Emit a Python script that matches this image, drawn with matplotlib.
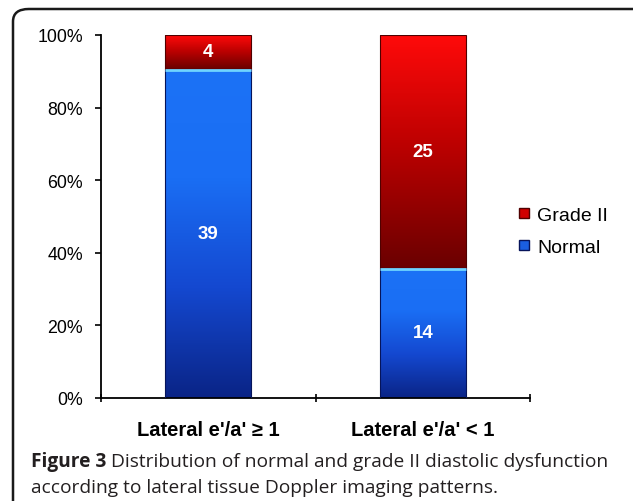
import numpy as np
import matplotlib
matplotlib.use('Agg')
import matplotlib.pyplot as plt
from matplotlib.colors import LinearSegmentedColormap
from matplotlib.patches import FancyBboxPatch
from matplotlib.lines import Line2D
from matplotlib.ticker import FixedLocator, PercentFormatter

categories = ["Lateral e'/a' \u2265 1", "Lateral e'/a' < 1"]
normal = np.array([39, 14])
grade2 = np.array([4, 25])
series_names = ['Grade II', 'Normal']

total = normal + grade2
normal_pct = normal / total * 100
grade2_pct = grade2 / total * 100

blue_cmap = LinearSegmentedColormap.from_list('b', ['#0a2486', '#1448d0', '#1a6ef4', '#1c72f6'])
red_cmap = LinearSegmentedColormap.from_list('r', ['#6a0000', '#b80000', '#ff0a0a'])

fig = plt.figure(figsize=(6.33, 5.02), dpi=100)
ax = fig.add_axes([101 / 633, (502 - 399) / 502, 429 / 633, 363 / 502])

x = np.arange(len(categories))
b1 = ax.bar(x, normal_pct, width=0.4, color='none', edgecolor='#06145a', linewidth=0.8, zorder=3)
b2 = ax.bar(x, grade2_pct, width=0.4, bottom=normal_pct, color='none', edgecolor='#500000',
            linewidth=0.8, zorder=3)


def gradient_fill(bars, cmap, top_line=None):
    grad = np.linspace(0, 1, 256).reshape(-1, 1)
    for p in bars:
        x0, y0 = p.get_x(), p.get_y()
        w, h = p.get_width(), p.get_height()
        im = ax.imshow(grad, cmap=cmap, origin='lower', aspect='auto',
                       extent=(x0, x0 + w, y0, y0 + h), zorder=2)
        im.set_clip_path(p)
        if top_line:
            ax.plot([x0, x0 + w], [y0 + h - 0.4, y0 + h - 0.4], color=top_line, lw=2, zorder=4,
                    solid_capstyle='butt')


gradient_fill(b1, blue_cmap, top_line='#6fd4ff')
gradient_fill(b2, red_cmap)

lab_kw = dict(ha='center', va='center', color='white', fontsize=13.5, fontweight='bold',
              family='Liberation Sans', zorder=5)
for i in range(len(categories)):
    ax.text(x[i], normal_pct[i] / 2, str(normal[i]), **lab_kw)
    ax.text(x[i], normal_pct[i] + grade2_pct[i] / 2, str(grade2[i]), **lab_kw)

ax.set_xlim(-0.5, len(categories) - 0.5)
ax.set_ylim(0, 100)
ax.set_yticks(np.arange(0, 101, 20))
ax.yaxis.set_major_formatter(PercentFormatter(decimals=0))
ax.set_xticks(x)
ax.set_xticklabels(categories, fontsize=14.5, fontweight='bold', family='Liberation Sans')
ax.xaxis.set_minor_locator(FixedLocator([-0.5, 0.5, 1.5]))
ax.tick_params(axis='x', which='major', length=0, pad=16)
ax.tick_params(axis='x', which='minor', length=6, width=1.2, direction='inout')
ax.tick_params(axis='y', length=4, width=1.2, direction='out', labelsize=12.8, pad=9)
for lab in ax.get_yticklabels():
    lab.set_family('Liberation Sans')
for s in ['top', 'right']:
    ax.spines[s].set_visible(False)
for s in ['left', 'bottom']:
    ax.spines[s].set_linewidth(1.3)

handles = [Line2D([], [], marker='s', ls='', markersize=6.5, markerfacecolor='#d00000',
                  markeredgecolor='#500000'),
           Line2D([], [], marker='s', ls='', markersize=6.5, markerfacecolor='#1a5ee0',
                  markeredgecolor='#06145a')]
fig.legend(handles, series_names, loc='center left', bbox_to_anchor=(506 / 633, 1 - 232 / 502),
           frameon=False, prop={'family': 'Liberation Sans', 'size': 14},
           handletextpad=0.2, labelspacing=0.75, handlelength=1.0, borderaxespad=0)

# frame (only top and left edges fall inside the picture)
frame = FancyBboxPatch((13 / 633, -0.1), 1.1, 1 - 10 / 502 + 0.1,
                       boxstyle='round,pad=0,rounding_size=0.025', transform=fig.transFigure,
                       facecolor='none', edgecolor='#1a1a1a', linewidth=1.8)
fig.patches.append(frame)

cap_font = 'Open Sans'
cap_size = 13.8
t = fig.text(31 / 633, 1 - 462 / 502, 'Figure 3', fontsize=cap_size, fontweight='bold',
             family=cap_font, color='#231f20', va='center')
fig.canvas.draw()
bb = t.get_window_extent()
fig.text(bb.x1 / 633 + 5 / 633, 1 - 462 / 502,
         'Distribution of normal and grade II diastolic dysfunction',
         fontsize=cap_size, family=cap_font, color='#231f20', va='center')
fig.text(31 / 633, 1 - 488 / 502, 'according to lateral tissue Doppler imaging patterns.',
         fontsize=cap_size, family=cap_font, color='#231f20', va='center')

fig.savefig('out.png', dpi=100)
